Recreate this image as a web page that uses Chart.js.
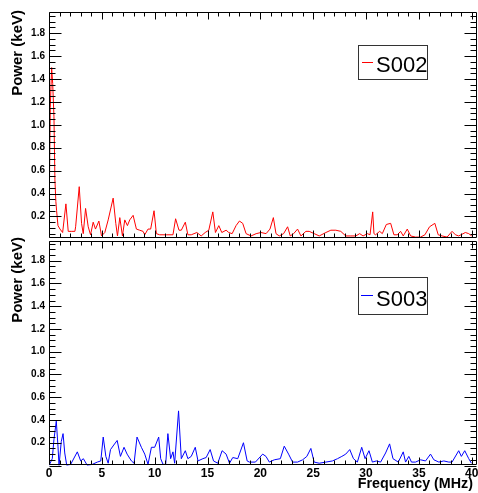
<!DOCTYPE html>
<html><head><meta charset="utf-8">
<script src="https://cdn.jsdelivr.net/npm/chart.js@4.4.1/dist/chart.umd.min.js"></script>
<style>
html,body{margin:0;padding:0;background:#fff;}
#wrap{position:relative;width:478px;height:493px;overflow:hidden;background:#fff;}
canvas{position:absolute;left:0;}
#c1{top:0;}
#c2{top:226px;}
</style></head><body>
<div id="wrap">
<canvas id="c1" width="478" height="240" style="width:478px;height:240px"></canvas>
<canvas id="c2" width="478" height="267" style="width:478px;height:267px"></canvas>
</div>
<script>
const s002Freq = [0.0,0.12,0.25,0.35,0.47,0.56,0.65,0.72,0.85,1.04,
 1.29,1.6,1.82,2.1,2.45,2.52,2.86,3.08,3.24,3.46,
 3.71,3.93,4.18,4.4,4.72,4.97,5.28,5.6,6.07,6.32,
 6.48,6.7,6.95,7.17,7.42,7.64,7.96,8.27,8.58,8.9,
 9.06,9.37,9.62,9.94,10.16,10.47,11.1,11.73,11.98,12.3,
 12.52,12.9,13.14,13.46,13.99,14.4,14.78,15.12,15.5,15.75,
 16.07,16.35,16.76,17.01,17.33,17.7,18.02,18.33,18.65,19.12,
 19.6,20.06,20.54,20.91,21.23,21.48,21.79,22.2,22.58,22.83,
 23.15,23.52,23.84,24.31,24.62,25.1,25.57,26.2,26.67,27.14,
 27.61,28.08,28.56,29.03,29.4,29.72,30.13,30.38,30.63,30.75,
 30.9,31.29,31.54,31.92,32.33,32.64,32.96,33.27,33.52,33.9,
 34.22,34.69,35.16,35.57,36.01,36.51,36.83,37.2,37.67,38.14,
 38.46,38.77,39.4,39.72,40.0];
const s002Power = [0.1,1.15,1.5,1.36,1.07,0.52,0.33,0.25,0.12,0.09,
 0.06,0.31,0.07,0.07,0.07,0.11,0.46,0.14,0.05,0.27,
 0.11,0.04,0.15,0.09,0.16,0.03,0.06,0.17,0.36,0.14,
 0.03,0.19,0.03,0.17,0.12,0.17,0.21,0.09,0.08,0.07,
 0.04,0.09,0.09,0.25,0.05,0.04,0.04,0.04,0.18,0.08,
 0.08,0.15,0.04,0.04,0.06,0.03,0.06,0.08,0.24,0.06,
 0.12,0.06,0.08,0.06,0.05,0.12,0.16,0.14,0.05,0.03,
 0.05,0.06,0.05,0.09,0.19,0.05,0.03,0.05,0.11,0.03,
 0.05,0.09,0.03,0.07,0.07,0.05,0.03,0.06,0.08,0.08,
 0.07,0.03,0.03,0.03,0.05,0.03,0.05,0.04,0.24,0.05,
 0.04,0.07,0.05,0.13,0.14,0.04,0.04,0.07,0.03,0.09,
 0.03,0.02,0.02,0.04,0.11,0.14,0.04,0.03,0.02,0.07,
 0.04,0.03,0.06,0.05,0.03];
const s003Freq = [0.0,0.31,0.47,0.69,0.85,0.95,1.16,1.33,1.49,1.68,
 2.05,2.68,3.0,3.25,3.63,4.1,4.57,4.9,5.13,5.38,
 5.6,5.82,6.13,6.45,6.76,7.1,7.39,7.8,8.05,8.33,
 8.74,9.06,9.37,9.69,10.0,10.38,10.57,10.79,11.04,11.25,
 11.51,11.73,11.89,12.26,12.52,12.9,13.14,13.46,13.84,14.1,
 14.56,14.87,15.25,15.57,15.97,16.38,16.76,17.08,17.39,17.86,
 18.4,18.75,18.96,19.53,20.22,20.53,20.85,21.32,21.89,22.26,
 22.67,23.05,23.52,24.0,24.4,24.78,25.09,25.57,26.2,26.82,
 27.3,27.71,28.08,28.46,28.81,29.18,29.59,29.91,30.28,30.6,
 30.97,31.38,31.85,32.23,32.55,33.05,33.52,33.74,34.05,34.3,
 34.68,35.16,35.63,36.1,36.42,36.89,37.36,37.83,38.14,38.77,
 39.02,39.34,39.72,39.97];
const s003Power = [0.0,0.06,0.23,0.39,0.17,0.0,0.21,0.28,0.11,0.0,
 0.01,0.12,0.04,0.06,0.0,0.01,0.03,0.04,0.25,0.08,
 0.02,0.14,0.18,0.22,0.08,0.16,0.1,0.04,0.02,0.25,
 0.16,0.1,0.01,0.16,0.16,0.25,0.06,0.01,0.01,0.28,
 0.06,0.12,0.02,0.48,0.06,0.13,0.06,0.08,0.16,0.04,
 0.06,0.07,0.14,0.04,0.02,0.13,0.1,0.02,0.07,0.06,
 0.2,0.04,0.03,0.03,0.1,0.08,0.03,0.05,0.06,0.17,
 0.1,0.03,0.03,0.05,0.08,0.15,0.03,0.02,0.03,0.04,
 0.06,0.08,0.1,0.14,0.06,0.03,0.16,0.06,0.13,0.03,
 0.04,0.03,0.11,0.19,0.06,0.03,0.12,0.03,0.08,0.03,
 0.03,0.05,0.04,0.1,0.05,0.03,0.04,0.03,0.03,0.13,
 0.08,0.13,0.06,0.02];
const yTickValues = [0.2,0.4,0.6,0.8,1.0,1.2,1.4,1.6,1.8];
const xTickValues = [0,5,10,15,20,25,30,35,40];
const seriesNames = ['S002','S003'];
const seriesColors = ['#ff0000','#0000ff'];
const xTitle = 'Frequency (MHz)';
const yTitle = 'Power (keV)';

const FONT = "'Liberation Sans', Arial, Helvetica, sans-serif";

function pts(fx, py){ return fx.map((f,i)=>({x:f, y:py[i]})); }

const framePlugin = {
  id:'rootFrame',
  afterDatasetsDraw(chart, args, o){
    const ctx = chart.ctx, a = chart.chartArea, xs = chart.scales.x, ys = chart.scales.y;
    const L = Math.floor(a.left)+0.5, R = Math.floor(a.right)-0.5;
    const T = Math.floor(a.top)+0.5, B = Math.floor(a.bottom)-0.5;
    ctx.save();
    ctx.strokeStyle = '#000'; ctx.lineWidth = 1;
    ctx.beginPath();
    ctx.rect(L, T, R-L, B-T);
    for(let i=0;i<=40;i++){
      const v = i*0.05;
      if(v < ys.min || v > ys.max) continue;
      const py = Math.round(ys.getPixelForValue(v))+0.5;
      const len = (i%4===0)?12:6;
      ctx.moveTo(L,py); ctx.lineTo(L+len,py);
      ctx.moveTo(R,py); ctx.lineTo(R-len,py);
    }
    for(let i=0;i<=40;i++){
      const px = Math.round(xs.getPixelForValue(i))+0.5;
      const len = (i%5===0)?7:4;
      ctx.moveTo(px,B); ctx.lineTo(px,B-len);
      ctx.moveTo(px,T); ctx.lineTo(px,T+len);
    }
    ctx.stroke();
    // legend box
    const lg = o.legend;
    ctx.fillStyle = '#fff';
    ctx.fillRect(lg.box[0], lg.box[1], lg.box[2]-lg.box[0], lg.box[3]-lg.box[1]);
    ctx.strokeStyle = '#333';
    ctx.strokeRect(lg.box[0]+0.5, lg.box[1]+0.5, lg.box[2]-lg.box[0], lg.box[3]-lg.box[1]);
    ctx.strokeStyle = lg.color;
    ctx.beginPath(); ctx.moveTo(lg.line[0], lg.line[2]+0.5); ctx.lineTo(lg.line[1], lg.line[2]+0.5); ctx.stroke();
    ctx.fillStyle = '#000';
    ctx.font = '22px ' + FONT;
    ctx.textAlign = 'left'; ctx.textBaseline = 'alphabetic';
    ctx.fillText(lg.label, lg.textX, lg.baseline);
    // y title
    ctx.save();
    ctx.translate(o.yTitleX, o.yTitleEnd);
    ctx.rotate(-Math.PI/2);
    ctx.font = 'bold 15px ' + FONT;
    ctx.textAlign = 'right'; ctx.textBaseline = 'middle';
    ctx.fillText(yTitle, 0, 0);
    ctx.restore();
    if(o.xTitle){
      ctx.font = 'bold 14.3px ' + FONT;
      ctx.textAlign = 'right'; ctx.textBaseline = 'alphabetic';
      ctx.fillText(xTitle, o.xTitle.x, o.xTitle.y);
    }
    ctx.restore();
  }
};

function makeChart(id, idx, cfg){
  return new Chart(document.getElementById(id), {
    type:'line',
    data:{datasets:[{
      label: seriesNames[idx],
      data: pts(idx===0?s002Freq:s003Freq, idx===0?s002Power:s003Power),
      borderColor: seriesColors[idx], borderWidth:1, pointRadius:0, tension:0, fill:false
    }]},
    options:{
      responsive:false, animation:false, devicePixelRatio:1,
      layout:{padding:{top:cfg.padTop, right:1, bottom:0, left:0}},
      plugins:{legend:{display:false}, tooltip:{enabled:false},
        rootFrame:{legend:cfg.legend, yTitleX:18, yTitleEnd:cfg.yTitleEnd, xTitle:cfg.xTitle}},
      scales:{
        x:{type:'linear', min:0, max:40.5,
          grid:{display:false, drawTicks:false}, border:{display:false},
          afterBuildTicks(s){ s.ticks = xTickValues.map(v=>({value:v})); },
          afterFit(s){ s.height = cfg.xHeight; s.paddingLeft=0; s.paddingRight=0; },
          ticks:{display:cfg.showX, padding:1, maxRotation:0, autoSkip:false, color:'#000',
            font:{family:FONT, size:12, weight:'bold'}, callback:v=>String(v)}},
        y:{type:'linear', min:cfg.ymin, max:cfg.ymax,
          grid:{display:false, drawTicks:false}, border:{display:false},
          afterBuildTicks(s){ s.ticks = yTickValues.map(v=>({value:v})); },
          afterFit(s){ s.width = 49; s.paddingTop=0; s.paddingBottom=0; },
          ticks:{padding:4, autoSkip:false, color:'#000',
            font:{family:FONT, size:10, weight:'bold'}, callback:v=>Number(v).toFixed(1)}}
      }
    },
    plugins:[framePlugin]
  });
}

makeChart('c1', 0, {padTop:12, xHeight:2, showX:false, ymin:0.012, ymax:1.985,
  yTitleEnd:10,
  legend:{box:[358,45,427,79], line:[362,373,62], textX:376, baseline:72, color:seriesColors[0], label:seriesNames[0]}});
makeChart('c2', 1, {padTop:15, xHeight:27.5, showX:true, ymin:0, ymax:1.973,
  yTitleEnd:11,
  xTitle:{x:473, y:262},
  legend:{box:[358,51,427,88], line:[361,373,69], textX:376, baseline:80, color:seriesColors[1], label:seriesNames[1]}});
</script>
</body></html>
